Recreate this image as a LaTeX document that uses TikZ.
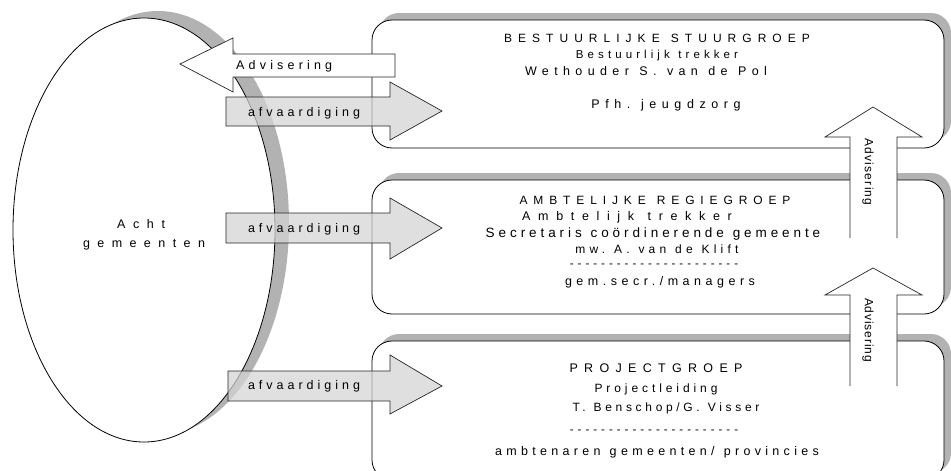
\documentclass[tikz,border=0pt]{standalone}
\usepackage{fontspec}
\setmainfont{Liberation Sans}
\definecolor{shd}{HTML}{B2B2B2}
\definecolor{arrfill}{HTML}{D4D4D4}
\makeatletter
\newlength\natw
\newlength\spw
\newcommand\wsp{\hspace{\spw}}
\newcommand\lt[3]{%
  \spw=\fontdimen2\font
  \settowidth\natw{#3}%
  \pgfmathsetmacro\gapv{max(0,(#1-\natw)/(#2-1))}%
  \pgfmathsetmacro\lsv{\gapv/\f@size*100}%
  \advance\spw by 1.3\dimexpr\gapv pt\relax
  \edef\lttmp{\noexpand\addfontfeatures{LetterSpace=\lsv}}%
  {\lttmp #3}}
\makeatother
\newcommand\dd{-\hspace{4.0pt}}
\begin{document}
\begin{tikzpicture}[x=1pt,y=-1pt,
  boxs/.style={draw=black, fill=white, line width=0.8pt, rounded corners=20pt},
  shadowbox/.style={fill=shd, rounded corners=20pt},
  ell/.style={draw=black, fill=white, line width=0.8pt},
  afv/.style={draw=black!85, fill=arrfill, fill opacity=0.72, line width=0.7pt},
  adv/.style={draw=black!85, fill=white, line width=0.7pt},
  f10/.style={inner sep=0pt, font=\fontsize{11.5}{13}\selectfont},
  f105/.style={inner sep=0pt, font=\fontsize{12}{14}\selectfont},
  f11/.style={inner sep=0pt, font=\fontsize{12.5}{14}\selectfont},
  f12/.style={inner sep=0pt, font=\fontsize{13.5}{15}\selectfont}]
\useasboundingbox (0,0) rectangle (951,471);
\clip (0,0) rectangle (951,471);

% shadows
\fill[shd] (158,223) ellipse [x radius=131, y radius=212];
\fill[shadowbox] (379,13) rectangle (951,141);
\fill[shadowbox] (379,173) rectangle (951,307);
\fill[shadowbox] (379,334) rectangle (951,473);

% ellipse and boxes
\draw[ell] (144,230) ellipse [x radius=131, y radius=212];
\draw[boxs] (372,20) rectangle (944,148);
\draw[boxs] (372,180) rectangle (944,314);
\draw[boxs] (372,341) rectangle (944,480);

% ellipse text
\node[f11] (acht) at (141,224) {\lt{48}{4}{Acht}};
\node[f11] (gem) at (144,245) {\lt{122}{9}{gemeenten}};

% box 1 text
\node[f105] (b1a) at (657,38) {\lt{310}{23}{BESTUURLIJKE\wsp STUURGROEP}};
\node[f10] (b1b) at (657,56) {\lt{165}{19}{Bestuurlijk\wsp trekker}};
\node[f11] (b1c) at (646,71) {\lt{257}{23}{Wethouder\wsp S.\wsp van\wsp de\wsp Pol}};
\node[f11] (b1d) at (666,105) {\lt{153}{14}{Pfh.\wsp jeugdzorg}};

% box 2 text
\node[f105] (b2a) at (655,200) {\lt{275}{21}{AMBTELIJKE\wsp REGIEGROEP}};
\node[f11] (b2b) at (627,217) {\lt{215}{17}{Ambtelijk\wsp trekker}};
\node[f12] (b2c) at (653,234) {\lt{340}{33}{Secretaris\wsp coördinerende\wsp gemeente}};
\node[f105] (b2d) at (657,249) {\lt{175}{19}{mw.\wsp A.\wsp van\wsp de\wsp Klift}};
\node[f10] (b2e) at (654,266) {\dd\dd\dd\dd\dd\dd\dd\dd\dd\dd\dd\dd\dd\dd\dd\dd\dd\dd\dd\dd\dd-};
\node[f11] (b2f) at (660,282) {\lt{190}{18}{gem.secr./managers}};

% box 3 text
\node[f11] (b3a) at (656,368) {\lt{173}{12}{PROJECTGROEP}};
\node[f105] (b3b) at (656,389) {\lt{123}{14}{Projectleiding}};
\node[f105] (b3c) at (666,408) {\lt{192}{21}{T.\wsp Benschop/G.\wsp Visser}};
\node[f10] (b3d) at (654,432) {\dd\dd\dd\dd\dd\dd\dd\dd\dd\dd\dd\dd\dd\dd\dd\dd\dd\dd\dd\dd\dd-};
\node[f11] (b3e) at (657,452) {\lt{330}{32}{ambtenaren\wsp gemeenten/\wsp provincies}};

% afvaardiging arrows
\draw[afv] (226,97) -- (390,97) -- (390,82) -- (442,111) -- (390,140) -- (390,126) -- (226,126) -- cycle;
\draw[afv] (226,213) -- (390,213) -- (390,198) -- (442,228) -- (390,259) -- (390,243) -- (226,243) -- cycle;
\draw[afv] (228,371) -- (390,371) -- (390,355) -- (442,386) -- (390,414) -- (390,401) -- (228,401) -- cycle;
\node[f11] (afv1) at (304,113) {\lt{112}{12}{afvaardiging}};
\node[f11] (afv2) at (304,229) {\lt{112}{12}{afvaardiging}};
\node[f11] (afv3) at (304,386) {\lt{112}{12}{afvaardiging}};

% advisering horizontal arrow
\draw[adv] (395,54) -- (233,54) -- (233,38) -- (180,64) -- (233,92) -- (233,77) -- (395,77) -- cycle;
\node[f11, anchor=west] (adv0) at (236,66) {\lt{96}{10}{Advisering}};

% vertical advisering arrows
\fill[white] (850,238) -- (850,137) -- (825,137) -- (873,107) -- (922,137) -- (897,137) -- (897,238) -- cycle;
\draw[black!85, line width=0.7pt] (850,238) -- (850,137) -- (825,137) -- (873,107) -- (922,137) -- (897,137) -- (897,238);
\fill[white] (850,386) -- (850,295) -- (825,295) -- (873,268) -- (922,295) -- (897,295) -- (897,386) -- cycle;
\draw[black!85, line width=0.7pt] (850,386) -- (850,295) -- (825,295) -- (873,268) -- (922,295) -- (897,295) -- (897,386);
\node[f105, rotate=-90] (adv1) at (868,172) {\lt{67}{10}{Advisering}};
\node[f105, rotate=-90] (adv2) at (868,330) {\lt{64}{10}{Advisering}};
\end{tikzpicture}
\end{document}
